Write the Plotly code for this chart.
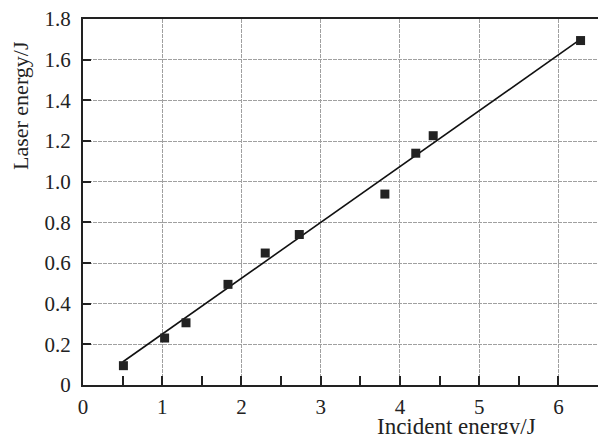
import plotly.graph_objects as go

incident = [0.51, 1.03, 1.30, 1.83, 2.30, 2.73, 3.81, 4.20, 4.42, 6.28]
laser = [0.095, 0.231, 0.306, 0.495, 0.649, 0.740, 0.939, 1.140, 1.226, 1.694]
fit_x = [0.50, 6.25]
fit_y = [0.113, 1.692]

x_tickvals = [0, 1, 2, 3, 4, 5, 6]
x_ticktext = ["0", "1", "2", "3", "4", "5", "6"]
y_tickvals = [0, 0.2, 0.4, 0.6, 0.8, 1.0, 1.2, 1.4, 1.6, 1.8]
y_ticktext = ["0", "0.2", "0.4", "0.6", "0.8", "1.0", "1.2", "1.4", "1.6", "1.8"]

font_family = "Liberation Serif"
ink = "#222222"

fig = go.Figure()
fig.add_trace(go.Scatter(x=fit_x, y=fit_y, mode="lines",
                         line=dict(color="#111111", width=1.6), showlegend=False))
fig.add_trace(go.Scatter(x=incident, y=laser, mode="markers",
                         marker=dict(symbol="square", size=9, color=ink,
                                     line=dict(width=0)), showlegend=False))

fig.update_layout(
    width=598, height=434,
    margin=dict(l=83, r=0, t=19, b=49),
    paper_bgcolor="white", plot_bgcolor="white",
    font=dict(family=font_family, color=ink, size=21),
    xaxis=dict(range=[0, 6.5], tickvals=x_tickvals, ticktext=x_ticktext,
               ticks="inside", ticklen=9, tickwidth=1.5, tickcolor=ink,
               minor=dict(dtick=0.5, tick0=0, ticks="inside", ticklen=9,
                          tickwidth=1.5, tickcolor=ink, showgrid=False),
               showline=True, linecolor=ink, linewidth=2, mirror=True,
               showgrid=True, gridcolor="#a0a0a0", gridwidth=1, griddash="4px,1px",
               zeroline=False, ticklabelstandoff=2,
               tickfont=dict(size=21, family=font_family)),
    yaxis=dict(range=[0, 1.8], tickvals=y_tickvals, ticktext=y_ticktext,
               ticks="inside", ticklen=8, tickwidth=1.5, tickcolor=ink,
               showline=True, linecolor=ink, linewidth=2, mirror=False,
               showgrid=True, gridcolor="#a0a0a0", gridwidth=1, griddash="4px,1px",
               zeroline=False, ticklabelstandoff=6,
               tickfont=dict(size=21, family=font_family)),
    annotations=[
        dict(text="Incident energy/J", xref="paper", yref="paper",
             x=(456 - 83) / 515, y=(385 - 427) / 366, xanchor="center", yanchor="middle",
             showarrow=False, font=dict(size=23, family=font_family, color=ink)),
        dict(text="Laser energy/J", xref="paper", yref="paper",
             x=(20 - 83) / 515, y=(385 - 106) / 366, xanchor="center", yanchor="middle",
             textangle=-90, showarrow=False,
             font=dict(size=22, family=font_family, color=ink)),
    ],
)

fig.write_html("out.html")
